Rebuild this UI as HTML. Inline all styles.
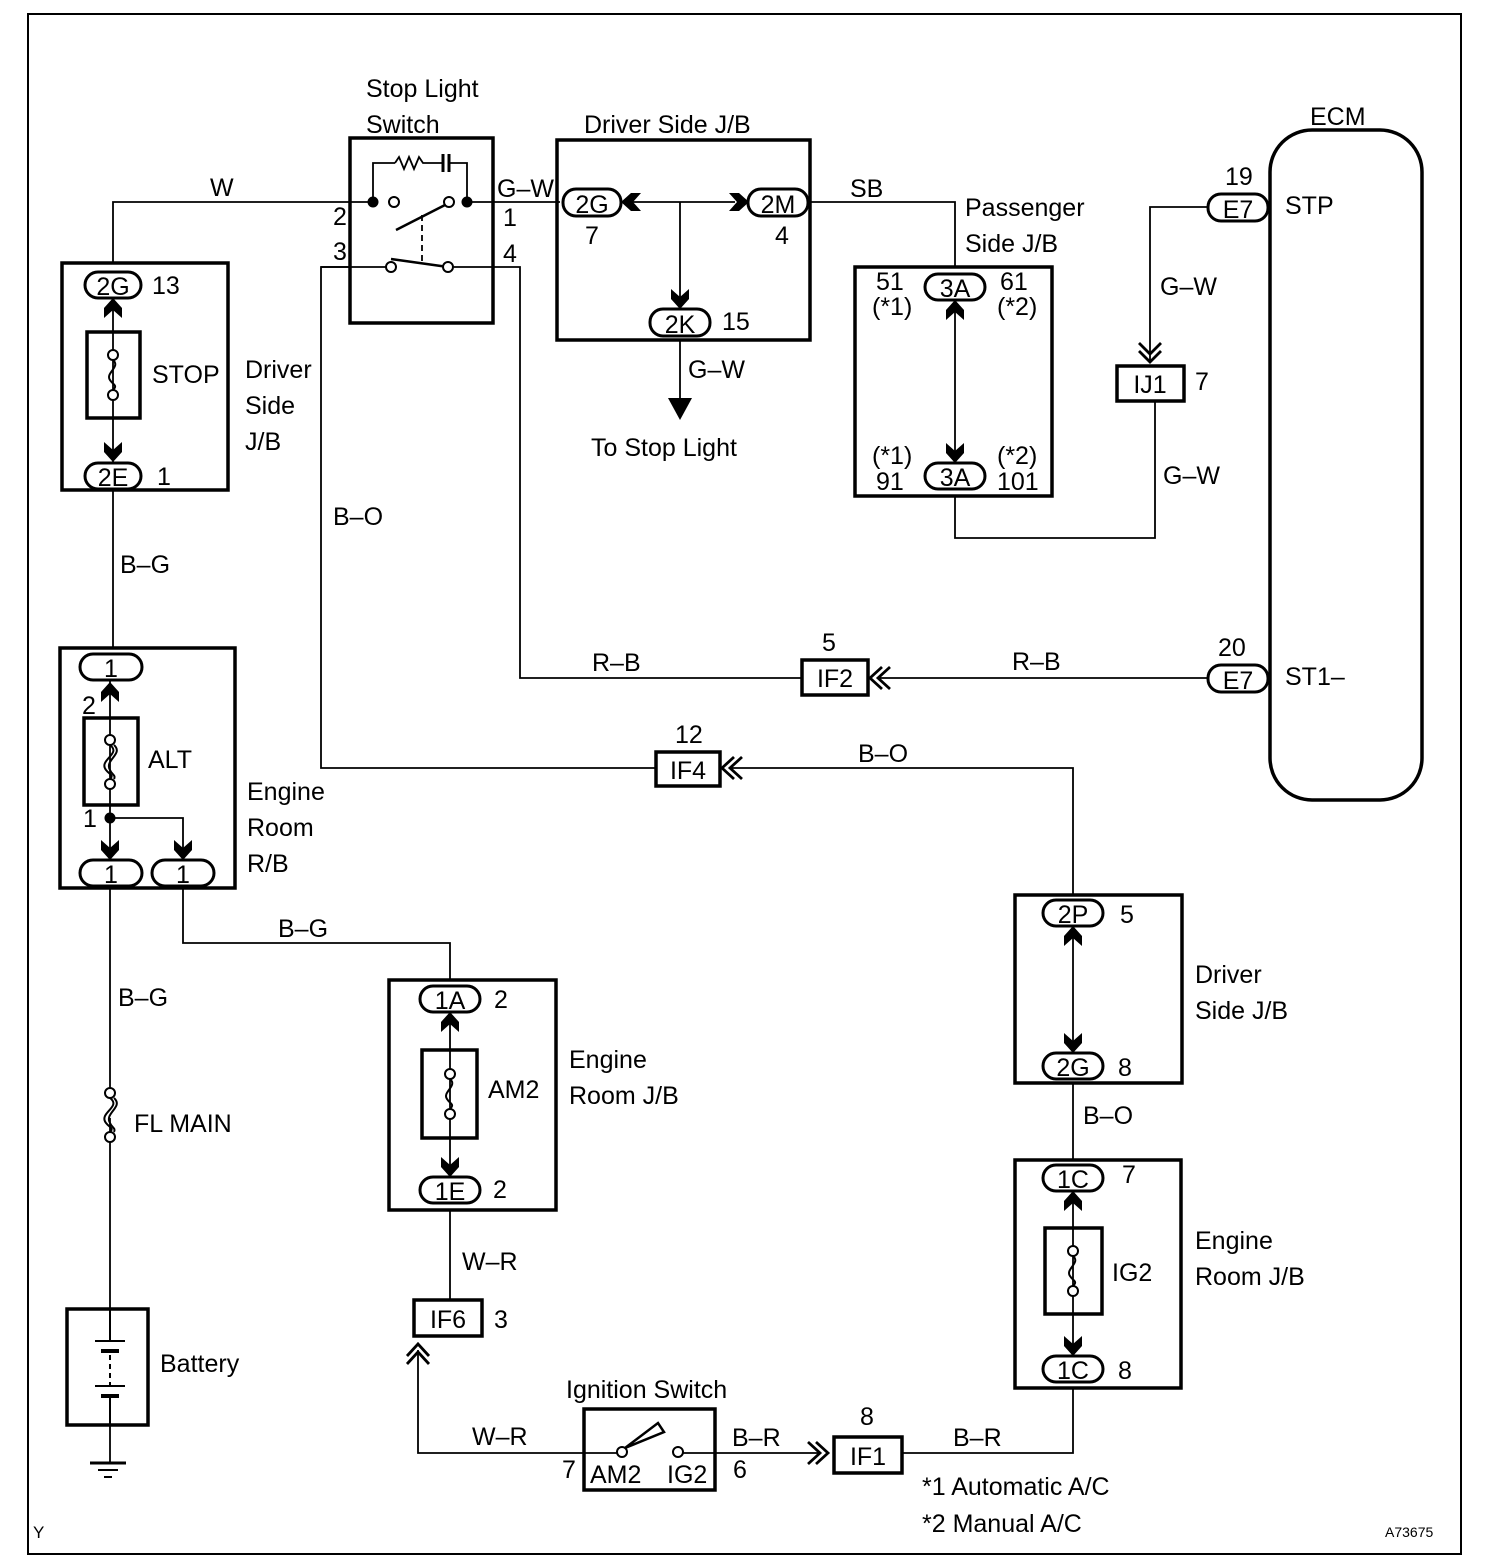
<!DOCTYPE html>
<html><head><meta charset="utf-8"><style>
html,body{margin:0;padding:0;background:#fff}
svg{display:block}
text{font-family:"Liberation Sans",Arial,sans-serif;font-size:25px;fill:#000}
</style></head><body>
<svg width="1504" height="1566" viewBox="0 0 1504 1566" xmlns="http://www.w3.org/2000/svg">
<defs>
<g id="up"><polygon points="0,-12 9,-2 9,8 0,0 -9,8 -9,-2" fill="#000"/></g>
<g id="dn"><polygon points="0,12 9,2 9,-8 0,0 -9,-8 -9,2" fill="#000"/></g>
<g id="fuse" fill="none" stroke="#000" stroke-width="2"><circle cx="0" cy="-20" r="5" fill="#fff"/><circle cx="0" cy="20" r="5" fill="#fff"/><path d="M0,-15 C8,-8 -8,-2 -3,5 C0,10 5,10 0,15"/></g>
<g id="fuse2" fill="none" stroke="#000" stroke-width="2"><circle cx="0" cy="-22" r="5" fill="#fff"/><circle cx="0" cy="22" r="5" fill="#fff"/><path d="M0,-17 C12,-8 -12,-2 -4,8 C0,13 4,13 0,17"/><path d="M4,-17 C14,-8 -6,-2 0,8 C2,13 6,13 4,17"/></g>
</defs>
<g fill="none" stroke="#000">
<rect x="28" y="14" width="1433" height="1540" stroke-width="2"/>
<g stroke-width="1.8">
<polyline points="113,263 113,202 373,202"/>
<line x1="467" y1="202" x2="560" y2="202"/>
<line x1="113" y1="490" x2="113" y2="648"/>
<polyline points="110,888 110,1088"/>
<polyline points="110,1118 110,1310"/>
<polyline points="110,1425 110,1462"/>
<polyline points="183,888 183,943 450,943 450,980"/>
<line x1="450" y1="1210" x2="450" y2="1300"/>
<polyline points="418,1350 418,1453 585,1453"/>
<line x1="715" y1="1453" x2="820" y2="1453"/>
<polyline points="902,1453 1073,1453 1073,1388"/>
<line x1="1073" y1="1160" x2="1073" y2="1083"/>
<polyline points="1073,895 1073,768 730,768"/>
<polyline points="656,768 321,768 321,267 350,267"/>
<polyline points="493,267 520,267 520,678 802,678"/>
<line x1="880" y1="678" x2="1210" y2="678"/>
<polyline points="810,202 955,202 955,268"/>
<polyline points="955,496 955,538 1155,538 1155,401"/>
<polyline points="1150,360 1150,207 1210,207"/>
<line x1="680" y1="340" x2="680" y2="400"/>
</g>
<g stroke-width="3.5">
<rect x="62" y="263" width="166" height="227"/>
<rect x="87" y="332" width="53" height="86"/>
<rect x="60" y="648" width="175" height="240"/>
<rect x="84" y="718" width="54" height="87"/>
<rect x="67" y="1309" width="81" height="116"/>
<rect x="389" y="980" width="167" height="230"/>
<rect x="422" y="1050" width="55" height="88"/>
<rect x="414" y="1300" width="68" height="36"/>
<rect x="584" y="1409" width="131" height="81"/>
<rect x="834" y="1437" width="68" height="36"/>
<rect x="1015" y="1160" width="166" height="228"/>
<rect x="1045" y="1228" width="57" height="86"/>
<rect x="1015" y="895" width="167" height="188"/>
<rect x="656" y="752" width="64" height="34"/>
<rect x="802" y="660" width="66" height="35"/>
<rect x="350" y="138" width="143" height="185"/>
<rect x="557" y="140" width="253" height="200"/>
<rect x="855" y="267" width="197" height="229"/>
<rect x="1117" y="366" width="67" height="35"/>
<rect x="1270" y="130" width="152" height="670" rx="42"/>
</g>
<g stroke-width="1.8">
<line x1="113" y1="298" x2="113" y2="462"/>
<line x1="110" y1="680" x2="110" y2="860"/>
<polyline points="110,818 183,818 183,860"/>
<line x1="450" y1="1012" x2="450" y2="1177"/>
<line x1="1073" y1="1191" x2="1073" y2="1356"/>
<line x1="1073" y1="926" x2="1073" y2="1053"/>
<line x1="955" y1="300" x2="955" y2="463"/>
<polyline points="621,202 735,202"/>
<line x1="680" y1="202" x2="680" y2="309"/>
<polyline points="373,202 373,163 395,163"/>
<path d="M395,163 l4,-6 l5,12 l5,-12 l5,12 l5,-12 l4,6 h20"/>
<polyline points="450,163 467,163 467,202"/>
<line x1="321" y1="267" x2="386" y2="267"/>
<line x1="454" y1="267" x2="493" y2="267"/>
<line x1="422" y1="215" x2="422" y2="262" stroke-dasharray="6,4"/>
</g>
<line x1="443" y1="154" x2="443" y2="172" stroke-width="3"/>
<line x1="449" y1="154" x2="449" y2="172" stroke-width="3"/>
<line x1="396" y1="230" x2="445" y2="205" stroke-width="2.5"/>
<line x1="391" y1="259" x2="448" y2="267" stroke-width="2.5"/>
<g stroke-width="2" fill="#fff">
<circle cx="394" cy="202" r="5"/><circle cx="449" cy="202" r="5"/>
<circle cx="391" cy="267" r="5"/><circle cx="448" cy="267" r="5"/>
</g>
<circle cx="373" cy="202" r="5" fill="#000"/><circle cx="467" cy="202" r="5" fill="#000"/>
<circle cx="110" cy="818" r="5" fill="#000"/>
<line x1="585" y1="1453" x2="621" y2="1453" stroke-width="1.8"/>
<polygon points="625,1448 658,1423 664,1432" stroke-width="2.5" fill="#fff"/>
<circle cx="622" cy="1452" r="5" stroke-width="2" fill="#fff"/>
<circle cx="678" cy="1452" r="5" stroke-width="2" fill="#fff"/>
<line x1="683" y1="1453" x2="715" y2="1453" stroke-width="1.8"/>
<g stroke-width="2">
<line x1="110" y1="1309" x2="110" y2="1341"/>
<line x1="95" y1="1341" x2="125" y2="1341"/>
<line x1="101" y1="1351" x2="119" y2="1351" stroke-width="4"/>
<line x1="110" y1="1355" x2="110" y2="1386" stroke-dasharray="5,4"/>
<line x1="95" y1="1386" x2="125" y2="1386"/>
<line x1="101" y1="1396" x2="119" y2="1396" stroke-width="4"/>
<line x1="110" y1="1396" x2="110" y2="1425"/>
<line x1="90" y1="1463" x2="126" y2="1463" stroke-width="3"/>
<line x1="98" y1="1470" x2="118" y2="1470"/>
<line x1="104" y1="1477" x2="112" y2="1477"/>
</g>
<g stroke-width="2.8">
<polyline points="407,1356 418,1344 429,1356"/><polyline points="407,1364 418,1352 429,1364"/>
<polyline points="808,1442 820,1453 808,1464"/><polyline points="816,1442 828,1453 816,1464"/>
<polyline points="742,757 730,768 742,779"/><polyline points="734,757 722,768 734,779"/>
<polyline points="890,667 878,678 890,689"/><polyline points="882,667 870,678 882,689"/>
<polyline points="1139,343 1150,354 1161,343"/><polyline points="1139,351 1150,362 1161,351"/>
</g>
<g stroke-width="3" fill="#fff">
<rect x="85" y="272" width="56" height="26" rx="13"/>
<rect x="85" y="463" width="56" height="26" rx="13"/>
<rect x="80" y="654" width="62" height="26" rx="13"/>
<rect x="80" y="860" width="62" height="26" rx="13"/>
<rect x="152" y="860" width="62" height="26" rx="13"/>
<rect x="420" y="986" width="60" height="26" rx="13"/>
<rect x="420" y="1177" width="60" height="26" rx="13"/>
<rect x="1043" y="1165" width="60" height="26" rx="13"/>
<rect x="1043" y="1356" width="60" height="26" rx="13"/>
<rect x="1043" y="900" width="60" height="26" rx="13"/>
<rect x="1043" y="1053" width="60" height="26" rx="13"/>
<rect x="563" y="189" width="58" height="27" rx="13"/>
<rect x="748" y="189" width="60" height="27" rx="13"/>
<rect x="650" y="309" width="60" height="27" rx="13"/>
<rect x="925" y="274" width="60" height="26" rx="13"/>
<rect x="925" y="463" width="60" height="26" rx="13"/>
<rect x="1208" y="194" width="60" height="27" rx="13"/>
<rect x="1208" y="665" width="60" height="27" rx="13"/>
</g>
</g>
<use href="#fuse" x="113" y="375"/>
<use href="#fuse2" x="110" y="762"/>
<use href="#fuse" x="450" y="1094"/>
<use href="#fuse" x="1073" y="1271"/>
<use href="#fuse2" x="110" y="1115"/>
<use href="#up" x="113" y="310"/><use href="#dn" x="113" y="450"/>
<use href="#up" x="110" y="694"/><use href="#dn" x="110" y="848"/><use href="#dn" x="183" y="848"/>
<use href="#up" x="450" y="1024"/><use href="#dn" x="450" y="1165"/>
<use href="#up" x="1073" y="1203"/><use href="#dn" x="1073" y="1344"/>
<use href="#up" x="1073" y="938"/><use href="#dn" x="1073" y="1041"/>
<use href="#up" x="955" y="312"/><use href="#dn" x="955" y="451"/>
<use href="#dn" x="680" y="297"/>
<g transform="translate(633,202) rotate(-90)"><use href="#up"/></g>
<g transform="translate(737,202) rotate(90)"><use href="#up"/></g>
<polygon points="668,398 692,398 680,420" fill="#000"/>
<g text-anchor="middle" style="font-size:26px">
<text x="113" y="295">2G</text><text x="113" y="486">2E</text>
<text x="111" y="677">1</text><text x="111" y="883">1</text><text x="183" y="883">1</text>
<text x="450" y="1009">1A</text><text x="450" y="1200">1E</text>
<text x="1073" y="1188">1C</text><text x="1073" y="1379">1C</text>
<text x="1073" y="923">2P</text><text x="1073" y="1076">2G</text>
<text x="592" y="213">2G</text><text x="778" y="213">2M</text><text x="680" y="333">2K</text>
<text x="955" y="297">3A</text><text x="955" y="486">3A</text>
<text x="1238" y="218">E7</text><text x="1238" y="689">E7</text>
<text x="448" y="1328">IF6</text><text x="868" y="1465">IF1</text>
<text x="688" y="779">IF4</text><text x="835" y="687">IF2</text>
<text x="1150" y="393">IJ1</text>
</g>
<text x="366" y="97">Stop Light</text><text x="366" y="133">Switch</text>
<text x="584" y="133">Driver Side J/B</text>
<text x="1310" y="125">ECM</text>
<text x="210" y="196">W</text><text x="497" y="197">G–W</text><text x="850" y="197">SB</text>
<text x="333" y="225">2</text><text x="503" y="226">1</text><text x="333" y="260">3</text><text x="503" y="262">4</text>
<text x="585" y="244">7</text><text x="775" y="244">4</text><text x="722" y="330">15</text>
<text x="688" y="378">G–W</text><text x="591" y="456">To Stop Light</text>
<text x="152" y="294">13</text><text x="152" y="383">STOP</text><text x="157" y="485">1</text>
<text x="245" y="378">Driver</text><text x="245" y="414">Side</text><text x="245" y="450">J/B</text>
<text x="120" y="573">B–G</text>
<text x="82" y="714">2</text><text x="148" y="768">ALT</text><text x="83" y="827">1</text>
<text x="247" y="800">Engine</text><text x="247" y="836">Room</text><text x="247" y="872">R/B</text>
<text x="118" y="1006">B–G</text><text x="134" y="1132">FL MAIN</text><text x="160" y="1372">Battery</text>
<text x="278" y="937">B–G</text>
<text x="494" y="1008">2</text><text x="488" y="1098">AM2</text><text x="493" y="1198">2</text>
<text x="569" y="1068">Engine</text><text x="569" y="1104">Room J/B</text>
<text x="462" y="1270">W–R</text><text x="494" y="1328">3</text><text x="472" y="1445">W–R</text>
<text x="566" y="1398">Ignition Switch</text>
<text x="562" y="1478">7</text><text x="590" y="1483">AM2</text><text x="667" y="1483">IG2</text><text x="733" y="1478">6</text>
<text x="732" y="1446">B–R</text><text x="860" y="1425">8</text><text x="953" y="1446">B–R</text>
<text x="1122" y="1183">7</text><text x="1112" y="1281">IG2</text><text x="1118" y="1379">8</text>
<text x="1195" y="1249">Engine</text><text x="1195" y="1285">Room J/B</text>
<text x="1083" y="1124">B–O</text>
<text x="1120" y="923">5</text><text x="1118" y="1076">8</text>
<text x="1195" y="983">Driver</text><text x="1195" y="1019">Side J/B</text>
<text x="675" y="743">12</text><text x="858" y="762">B–O</text><text x="333" y="525">B–O</text>
<text x="592" y="671">R–B</text><text x="822" y="651">5</text><text x="1012" y="670">R–B</text>
<text x="1218" y="656">20</text><text x="1285" y="685">ST1–</text>
<text x="1225" y="185">19</text><text x="1285" y="214">STP</text>
<text x="965" y="216">Passenger</text><text x="965" y="252">Side J/B</text>
<text x="876" y="290">51</text><text x="872" y="315">(*1)</text>
<text x="1000" y="290">61</text><text x="997" y="315">(*2)</text>
<text x="872" y="464">(*1)</text><text x="876" y="490">91</text>
<text x="997" y="464">(*2)</text><text x="997" y="490">101</text>
<text x="1160" y="295">G–W</text><text x="1195" y="390">7</text><text x="1163" y="484">G–W</text>
<text x="922" y="1495">*1 Automatic A/C</text><text x="922" y="1532">*2 Manual A/C</text>
<text x="33" y="1538" style="font-size:17px">Y</text>
<text x="1385" y="1537" style="font-size:14px">A73675</text>
</svg>
</body></html>
